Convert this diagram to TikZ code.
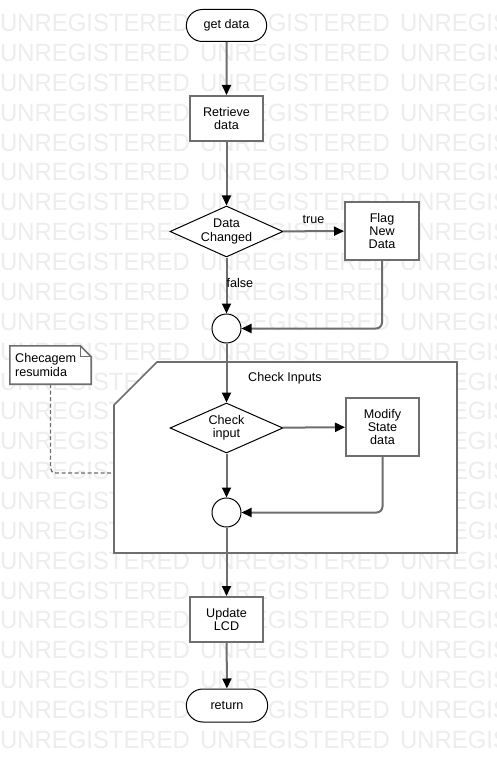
\documentclass[tikz,border=0pt]{standalone}
\usepackage{fontspec}
\usepackage{xcolor}
\usepackage{tikz}
\usetikzlibrary{
	arrows.meta,shapes.geometric,shapes.misc
}
\newfontfamily\diagfont{Liberation Sans}
\newfontfamily\wmfont[FakeStretch=0.955]{Liberation Sans}
\definecolor{wmgray}{HTML}{EDEDED}
\definecolor{linegray}{HTML}{6E6E6E}

\tikzset{
	every node/.style={font=\diagfont\fontsize{12.6}{13.4}\selectfont, align=center},
	wmark/.style={font=\wmfont\fontsize{25}{25}\selectfont, text=wmgray, inner sep=0pt, anchor=base west},
	term/.style={rounded rectangle, draw=black, line width=1pt, fill=white, minimum width=87pt, minimum height=32pt},
	proc/.style={rectangle, draw=linegray, line width=2pt, fill=white, minimum width=73pt, minimum height=45pt, inner sep=1pt},
	dec/.style={diamond, aspect=2.3, draw=black, line width=1pt, fill=white, minimum width=113pt, minimum height=51pt, inner sep=0pt},
	junc/.style={circle, draw=black, line width=1pt, fill=white, minimum size=29pt, inner sep=0pt},
	flow/.style={draw=linegray, line width=2pt, -{Triangle[length=10pt,width=9pt,color=black]}}
}

\begin{document}
\begin{tikzpicture}[x=1pt,y=-1pt]
		\useasboundingbox (0,0) rectangle (497,762);
		\clip (0,0) rectangle (497,762);
		\fill[white] (0,0) rectangle (497,762);
		%
		\foreach \r in {0,...,24}
			\foreach \c in {0,1,2}
				\node[wmark] at (200*\c, 31.7+29.86*\r) {UNREGISTERED};
		%
		\draw[linegray, line width=1.6pt, fill=white]
			(157,362) -- (457,362) -- (457,553) -- (114,553) -- (114,405) -- cycle;
		\node (frame) at (285,378) {Check Inputs};
		\coordinate (fl) at (114,473);
		%
		\node[term] (get) at (226.5,25.5) {get data};
		\node[proc] (ret) at (226.5,118.5) {Retrieve\\data};
		\node[dec] (chg) at (226.5,231.5) {Data\\Changed};
		\node[proc, minimum width=74pt, minimum height=58pt] (flag) at (382,231) {Flag\\New\\Data};
		\node[junc] (j1) at (226.5,328.5) {};
		\node[dec, minimum height=50pt] (chk) at (226.5,428) {Check\\input};
		\node[proc, minimum height=58pt] (mod) at (382.5,427) {Modify\\State\\data};
		\node[junc] (j2) at (226.5,512.5) {};
		\node[proc] (lcd) at (226.5,619.5) {Update\\LCD};
		\node[term, minimum width=88pt, minimum height=33pt] (rtn) at (227,705.5) {return};
		%
		\node[minimum width=81pt, minimum height=38pt, align=left, text width=75pt, inner sep=3pt] (note) at (50.5,365) {Checagem\\resumida};
		\draw[linegray, line width=1.6pt, fill=white]
			(note.north west) -- ([xshift=-11pt]note.north east) -- ([yshift=-11pt]note.north east)
			-- (note.south east) -- (note.south west) -- cycle;
		\draw[linegray, line width=0.8pt]
			([xshift=-11pt]note.north east) |- ([yshift=-11pt]note.north east);
		\node[align=left, inner sep=0pt, anchor=west] at (15,365) {Checagem\\resumida};
		%
		\path[flow]
			(get) edge (ret)
			(ret) edge (chg)
			(chg) edge node[above, yshift=3pt]{true} (flag)
			(chg) edge node[midway, anchor=west, inner sep=0pt, xshift=-1pt, yshift=3pt]{false} (j1)
			(j1) edge (chk)
			(chk) edge (mod)
			(chk) edge (j2)
			(j2) edge (lcd)
			(lcd) edge (rtn);
		\draw[flow, rounded corners=6pt] (flag.south) |- (j1.east);
		\draw[flow, rounded corners=6pt] (mod.south) |- (j2.east);
		%
		\draw[linegray, line width=1.4pt, dash pattern=on 4pt off 2.5pt, rounded corners=5pt]
			(note.south) |- (fl);
	\end{tikzpicture}
\end{document}
